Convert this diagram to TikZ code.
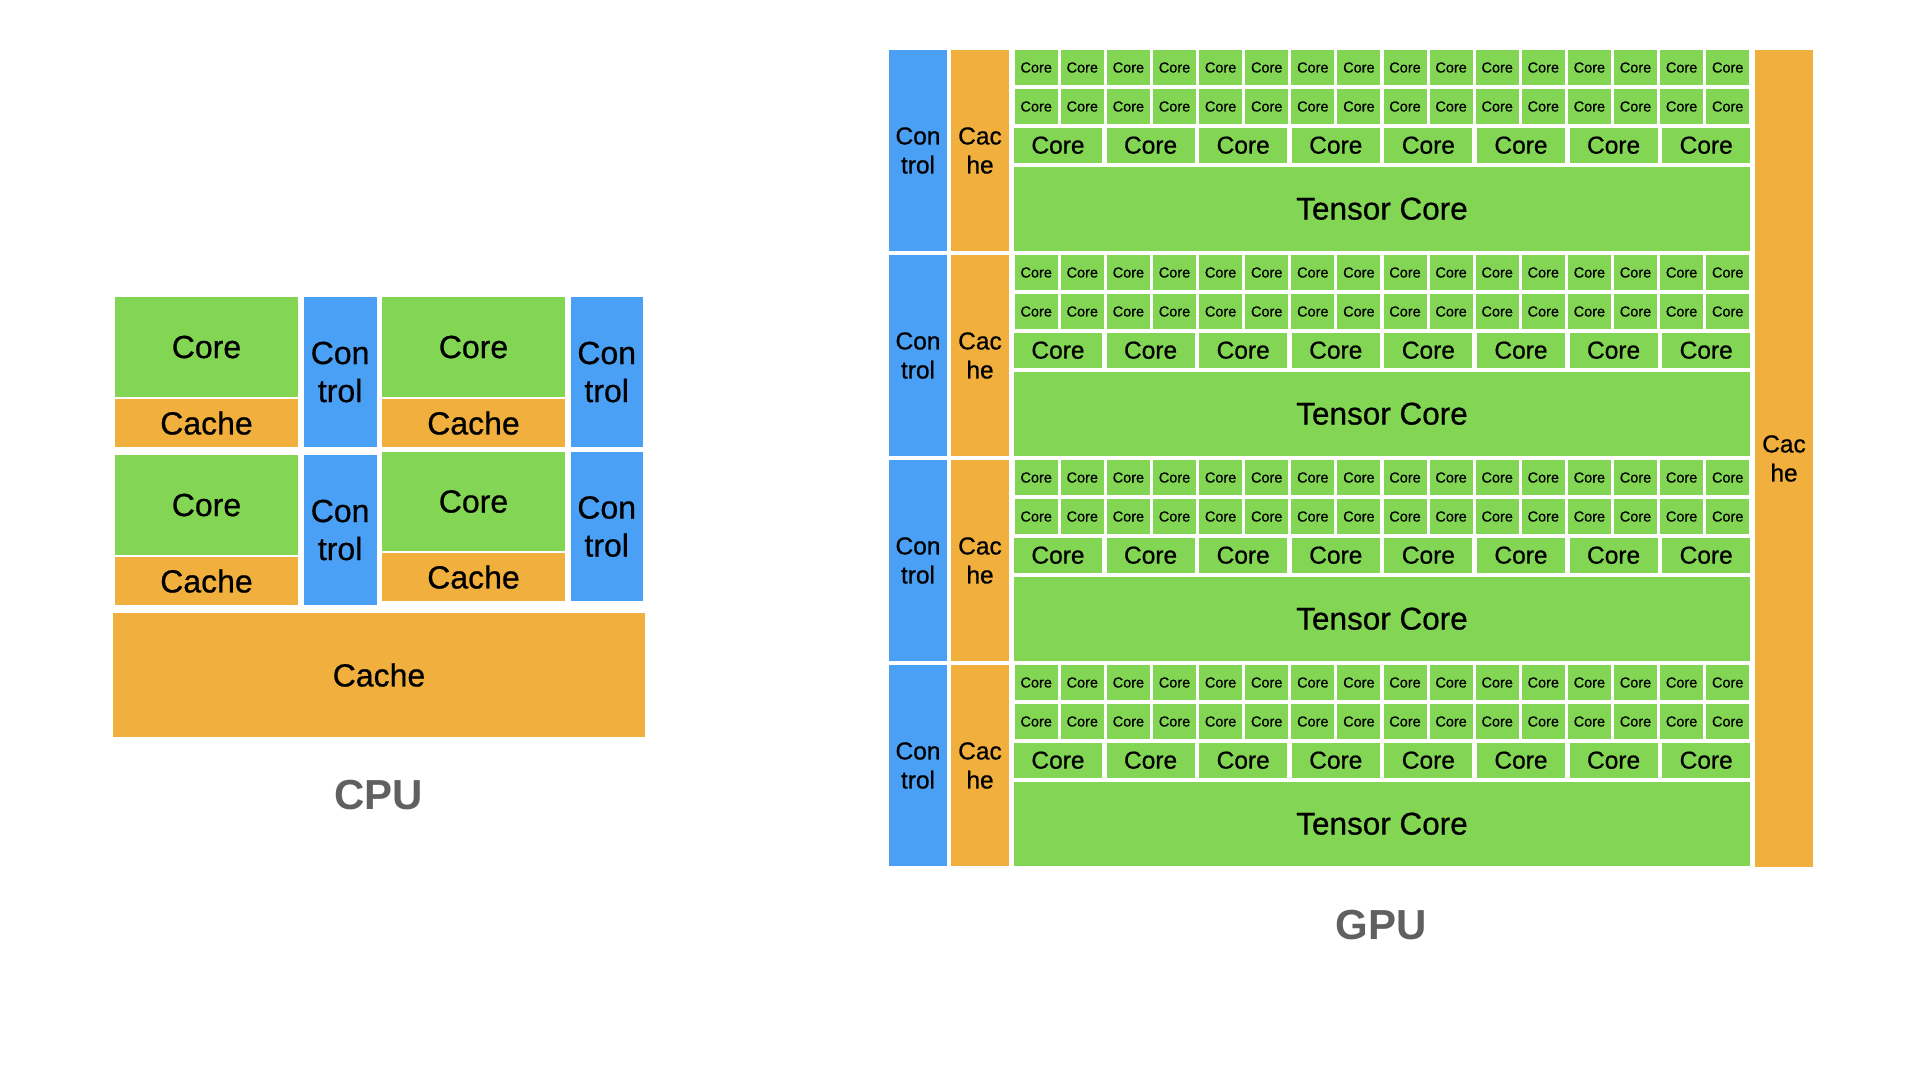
\documentclass[tikz,border=0pt]{standalone}
\usepackage{fontspec}
\setmainfont{Liberation Sans}
\newfontfamily\medfont[FakeBold=0.7]{Liberation Sans}
\definecolor{coregreen}{HTML}{83D654}
\definecolor{ctrlblue}{HTML}{4AA0F5}
\definecolor{cacheorange}{HTML}{F1B03E}
\definecolor{labelgray}{HTML}{606060}
\begin{document}
\begin{tikzpicture}[x=1pt, y=-1pt,
    bloc/.style={anchor=north west, inner sep=0pt, outer sep=0pt,
        align=center, text=black},
    core/.style={bloc, fill=coregreen},
    ctrl/.style={bloc, fill=ctrlblue},
    cache/.style={bloc, fill=cacheorange},
    dim/.style 2 args={minimum width=#1pt, minimum height=#2pt},
    cpufont/.style={font=\medfont\fontsize{32}{38}\selectfont},
    gpufont/.style={font=\medfont\fontsize{24.5}{29}\selectfont},
    tinyfont/.style={font=\medfont\fontsize{14.5}{17}\selectfont},
    tensorfont/.style={font=\medfont\fontsize{31.5}{38}\selectfont},
    titel/.style={font=\fontsize{42}{50}\selectfont\bfseries, text=labelgray}
    ]
    \useasboundingbox (0,0) rectangle (1920,1080);

    % CPU
    \node[core, dim={183}{100}, cpufont] (cpucoreA) at (115,297) {Core};
    \node[cache, dim={183}{48}, cpufont] (cpucacheA) at (115,399) {Cache};
    \node[ctrl, dim={73}{150}, cpufont] (cpuctrlA) at (303.6,297) {Con\\trol};
    \node[core, dim={183}{100}, cpufont] (cpucoreB) at (382,297) {Core};
    \node[cache, dim={183}{48}, cpufont] (cpucacheB) at (382,399) {Cache};
    \node[ctrl, dim={72}{150}, cpufont] (cpuctrlB) at (570.7,297) {Con\\trol};
    \node[core, dim={183}{100}, cpufont] (cpucoreC) at (115,455) {Core};
    \node[cache, dim={183}{48}, cpufont] (cpucacheC) at (115,557) {Cache};
    \node[ctrl, dim={73}{150}, cpufont] (cpuctrlC) at (303.6,455) {Con\\trol};
    \node[core, dim={183}{99}, cpufont] (cpucoreD) at (382,452) {Core};
    \node[cache, dim={183}{48}, cpufont] (cpucacheD) at (382,553) {Cache};
    \node[ctrl, dim={72}{149}, cpufont] (cpuctrlD) at (570.7,452) {Con\\trol};
    \node[cache, dim={532}{124}, cpufont] (cpucache) at (113,613) {Cache};
    \node[titel] (cpu) at (378.6,795) {CPU};

    % GPU
    \foreach \b in {0,...,3} {
        \pgfmathsetmacro{\y}{50+205*\b}
        \node[ctrl, dim={58}{201}, gpufont] (gpuctrl\b) at (889,\y) {Con\\trol};
        \node[cache, dim={58}{201}, gpufont] (gpucache\b) at (951,\y) {Cac\\he};
        \foreach \i in {0,...,15} {
            \node[core, dim={43}{35}, tinyfont] (sc\b-a-\i) at ({1014.7+46.1*\i},\y) {Core};
            \node[core, dim={43}{35}, tinyfont] (sc\b-b-\i) at ({1014.7+46.1*\i},\y+39) {Core};
        }
        \foreach \i in {0,...,7}
            \node[core, dim={88}{35}, gpufont] (bc\b-\i) at ({1014+92.6*\i},\y+77.7) {Core};
        \node[core, dim={736}{84}, tensorfont] (tensor\b) at (1014,\y+116.7) {Tensor Core};
    }
    \node[cache, dim={58}{817}, gpufont] (gpucache) at (1755,50) {Cac\\he};
    \node[titel] (gpu) at (1381,925) {GPU};
\end{tikzpicture}
\end{document}
